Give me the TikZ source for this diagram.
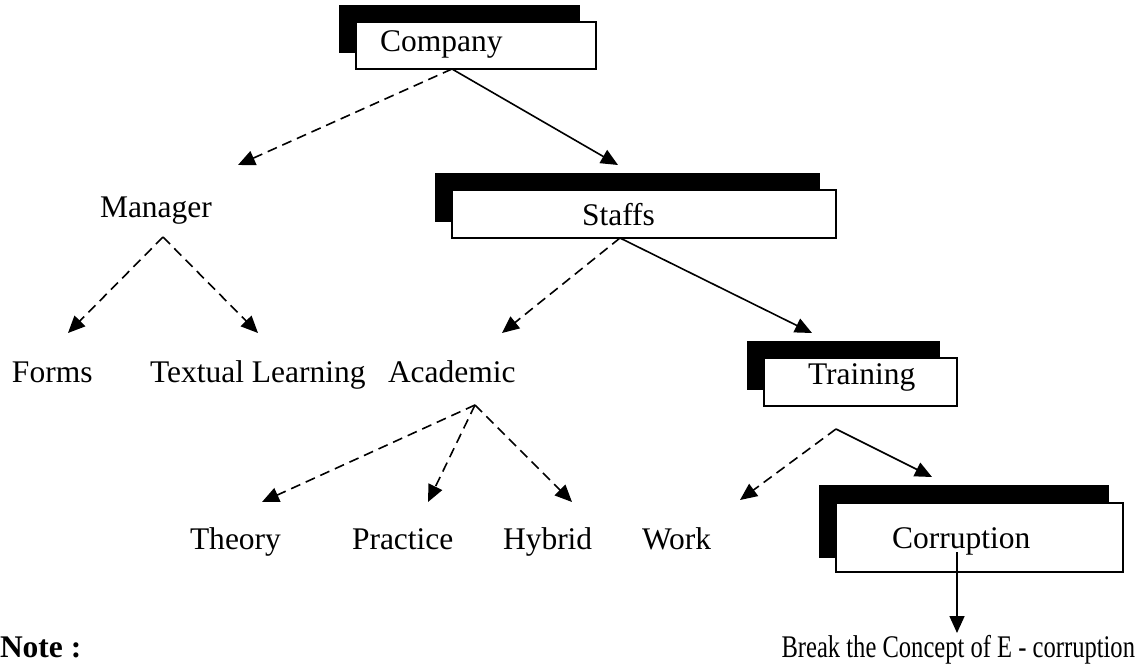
\documentclass[tikz,border=0pt]{standalone}
\usepackage{fontspec}
\setmainfont{Liberation Serif}
\usetikzlibrary{arrows.meta}
\begin{document}
\begin{tikzpicture}[x=1pt,y=-1pt,
  lbl/.style={anchor=base west,inner sep=0pt,outer sep=0pt,font=\fontsize{31.5}{36}\selectfont},
  shadowbox/.style={fill=black,draw=none,anchor=north west,inner sep=0pt,outer sep=0pt},
  whitebox/.style={fill=white,draw=black,line width=1.6pt,anchor=north west,inner sep=0pt,outer sep=0pt},
  conn/.style={line width=1.6pt,-{Triangle[length=17pt,width=15pt]}},
  dashconn/.style={conn,dash pattern=on 10pt off 6pt}]
\useasboundingbox (0,0) rectangle (1142,666);
% boxes
\node[shadowbox,minimum width=241pt,minimum height=48pt] (companyshadow) at (339,5) {};
\node[whitebox,minimum width=240pt,minimum height=47pt] (companybox) at (356,22) {};
\node[shadowbox,minimum width=385pt,minimum height=49pt] (staffsshadow) at (435,173) {};
\node[whitebox,minimum width=384pt,minimum height=48pt] (staffsbox) at (452,190) {};
\node[shadowbox,minimum width=193pt,minimum height=49pt] (trainingshadow) at (747,341) {};
\node[whitebox,minimum width=193pt,minimum height=48pt] (trainingbox) at (764,358) {};
\node[shadowbox,minimum width=290pt,minimum height=73pt] (corruptionshadow) at (819,485) {};
\node[whitebox,minimum width=287pt,minimum height=69pt] (corruptionbox) at (836,503) {};
% labels
\node[lbl] (company) at (380,52) {Company};
\node[lbl] (manager) at (100,217) {Manager};
\node[lbl] (staffs) at (582,225) {Staffs};
\node[lbl] (forms) at (12,382) {Forms};
\node[lbl] (textual) at (150,382) {Textual Learning};
\node[lbl] (academic) at (388,382) {Academic};
\node[lbl] (training) at (808,384) {Training};
\node[lbl] (theory) at (190,549) {Theory};
\node[lbl] (practice) at (352,549) {Practice};
\node[lbl] (hybrid) at (503,549) {Hybrid};
\node[lbl] (work) at (642,549) {Work};
\node[lbl] (corruption) at (892,548) {Corruption};
\node[lbl,font=\fontsize{31.5}{36}\selectfont\bfseries] (note) at (0,657) {Note :};
\node[lbl,anchor=base east] (breaktext) at (1135,657) {\scalebox{0.78}[1]{Break the Concept of E - corruption}};
% branch points and tips
\coordinate (cbr) at (452,69);
\coordinate (mgrtip) at (238,165);
\coordinate (stftip) at (618,165);
\coordinate (mbr) at (163,237);
\coordinate (formstip) at (68,333);
\coordinate (texttip) at (258,333);
\coordinate (sbr) at (620,238);
\coordinate (acadtip) at (502,333);
\coordinate (traintip) at (812,333);
\coordinate (abr) at (475,405);
\coordinate (theorytip) at (262,502);
\coordinate (practicetip) at (428,502);
\coordinate (hybridtip) at (572,502);
\coordinate (tbr) at (836,429);
\coordinate (worktip) at (740,500);
\coordinate (corrtip) at (932,477);
\coordinate (corrstart) at (957,552);
\coordinate (breaktip) at (957,633);
% connectors
\draw[dashconn] (cbr) -- (mgrtip);
\draw[conn] (cbr) -- (stftip);
\draw[dashconn] (mbr) -- (formstip);
\draw[dashconn] (mbr) -- (texttip);
\draw[dashconn] (sbr) -- (acadtip);
\draw[conn] (sbr) -- (traintip);
\draw[dashconn] (abr) -- (theorytip);
\draw[dashconn] (abr) -- (practicetip);
\draw[dashconn] (abr) -- (hybridtip);
\draw[dashconn] (tbr) -- (worktip);
\draw[conn] (tbr) -- (corrtip);
\draw[conn] (corrstart) -- (breaktip);
\end{tikzpicture}
\end{document}
